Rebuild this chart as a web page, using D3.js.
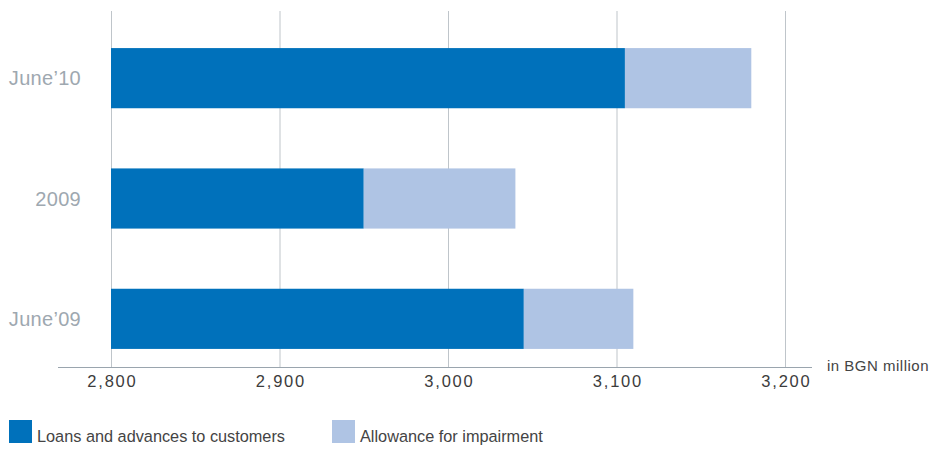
<!DOCTYPE html>
<html>
<head>
<meta charset="utf-8">
<script src="https://cdn.jsdelivr.net/npm/d3@7"></script>
<style>
  html, body { margin: 0; padding: 0; background: #fff; }
  svg { display: block; font-family: "Liberation Sans", Arial, sans-serif; }
</style>
</head>
<body>
<svg id="chart" width="932" height="449"></svg>
<script>
// Periods, top to bottom
const categories = ["June\u201910", "2009", "June\u201909"];
// Loans and advances to customers, net (BGN million)
const loansValues = [3105, 2950, 3045];
// Allowance for impairment stacked on top (BGN million)
const allowanceValues = [75, 90, 65];
const tickValues = [2800, 2900, 3000, 3100, 3200];
const seriesNames = ["Loans and advances to customers", "Allowance for impairment"];
const colors = ["#0071bb", "#afc4e4"];

const svg = d3.select("#chart");

const x = d3.scaleLinear().domain([2800, 3200]).range([111, 785]);
const y = d3.scaleBand().domain(categories).range([18, 379]).paddingInner(0.5).paddingOuter(0.25);

// vertical gridlines
svg.append("g")
  .selectAll("line")
  .data(tickValues)
  .join("line")
  .attr("x1", d => x(d) + 0.5).attr("x2", d => x(d) + 0.5)
  .attr("y1", 11).attr("y2", 367)
  .attr("stroke", "#bfc5ca").attr("stroke-width", 1);

// stacked bars
const rows = categories.map((c, i) => ({ cat: c, loans: loansValues[i], allow: allowanceValues[i] }));
const bars = svg.append("g");
bars.selectAll("rect.loans")
  .data(rows)
  .join("rect")
  .attr("class", "loans")
  .attr("x", x(2800))
  .attr("y", d => y(d.cat))
  .attr("width", d => x(d.loans) - x(2800))
  .attr("height", y.bandwidth())
  .attr("fill", colors[0]);
bars.selectAll("rect.allow")
  .data(rows)
  .join("rect")
  .attr("class", "allow")
  .attr("x", d => x(d.loans))
  .attr("y", d => y(d.cat))
  .attr("width", d => x(d.loans + d.allow) - x(d.loans))
  .attr("height", y.bandwidth())
  .attr("fill", colors[1]);

// category labels
svg.append("g")
  .selectAll("text")
  .data(categories)
  .join("text")
  .attr("x", 81)
  .attr("y", d => y(d) + y.bandwidth() / 2)
  .attr("dy", "0.36em")
  .attr("text-anchor", "end")
  .attr("font-size", 20)
  .attr("letter-spacing", 0.3)
  .attr("fill", "#9ea8b0")
  .text(d => d);

// x axis
const axisG = svg.append("g").attr("transform", "translate(0,367.5)");
axisG.call(d3.axisBottom(x).tickValues(tickValues).tickSize(0).tickPadding(8)
  .tickFormat(d3.format(",")));
axisG.select(".domain").remove();
axisG.append("line")
  .attr("x1", 58).attr("x2", 812)
  .attr("stroke", "#9aa5ae").attr("stroke-width", 1.2);
axisG.selectAll(".tick text")
  .attr("font-size", 16.5)
  .attr("letter-spacing", 1.8)
  .attr("dx", 0.9)
  .attr("font-family", "Liberation Sans, Arial, sans-serif")
  .attr("fill", "#3c3c3c");

// unit label
svg.append("text")
  .attr("x", 827).attr("y", 371)
  .attr("font-size", 15)
  .attr("letter-spacing", 0.5)
  .attr("fill", "#444")
  .text("in BGN million");

// legend
const legendX = [9, 332];
const legend = svg.append("g");
seriesNames.forEach((name, i) => {
  legend.append("rect")
    .attr("x", legendX[i]).attr("y", 420)
    .attr("width", 23).attr("height", 23)
    .attr("fill", colors[i]);
  legend.append("text")
    .attr("x", legendX[i] + 28).attr("y", 442)
    .attr("font-size", 16.3)
    .attr("fill", "#444")
    .text(name);
});
</script>
</body>
</html>
